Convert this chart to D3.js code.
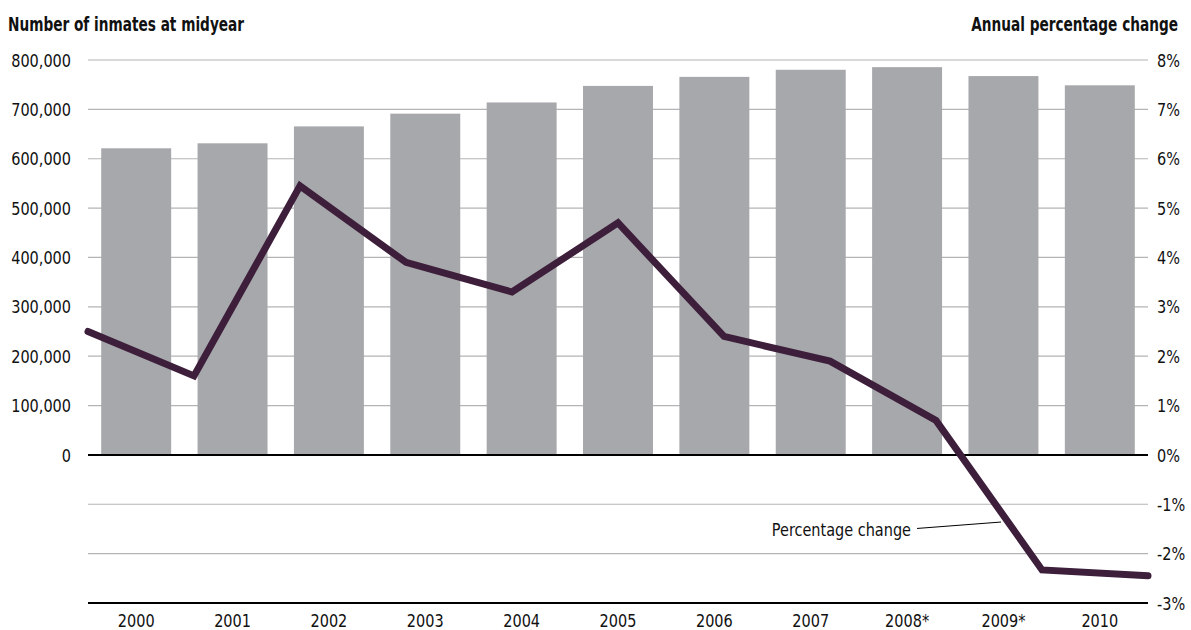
<!DOCTYPE html>
<html>
<head>
<meta charset="utf-8">
<script src="https://cdn.jsdelivr.net/npm/d3@7"></script>
<style>
  html, body { margin: 0; padding: 0; background: #fff; }
  svg { display: block; }
  text { font-family: "Liberation Sans Narrow", "DejaVu Sans Condensed", "Roboto", sans-serif; fill: #111; }
</style>
</head>
<body>
<svg id="chart" width="1191" height="630"></svg>
<script>
const years = ["2000","2001","2002","2003","2004","2005","2006","2007","2008*","2009*","2010"];
const inmates = [621149, 631240, 665475, 691301, 713990, 747529, 765819, 780174, 785533, 767434, 748728];
const pctChange = [2.5, 1.6, 5.45, 3.9, 3.3, 4.7, 2.4, 1.9, 0.7, -2.33, -2.45];
const leftTicks = [0, 100000, 200000, 300000, 400000, 500000, 600000, 700000, 800000];
const rightTicks = [-3, -2, -1, 0, 1, 2, 3, 4, 5, 6, 7, 8];
const leftTitle = "Number of inmates at midyear";
const rightTitle = "Annual percentage change";
const annotation = "Percentage change";

const svg = d3.select("#chart");
const x0 = 88, x1 = 1148, yTop = 60, yBot = 603;
const sLab = 0.87, sTitle = 0.78;

const yL = d3.scaleLinear().domain([-300000, 800000]).range([yBot, yTop]);
const yR = d3.scaleLinear().domain([-3, 8]).range([yBot, yTop]);
const xBand = d3.scaleBand().domain(years).range([x0, x1]).paddingInner(0.274).paddingOuter(0.137);
const xPt = d3.scalePoint().domain(years).range([x0, x1]).padding(0);

const tf = (x, y, s) => `translate(${x},${y}) scale(${s},1)`;

// gridlines
svg.append("g").selectAll("line").data(rightTicks.filter(d => d !== 0 && d !== -3)).join("line")
  .attr("x1", x0).attr("x2", x1)
  .attr("y1", d => yR(d)).attr("y2", d => yR(d))
  .attr("stroke", "#b4b4b6").attr("stroke-width", 1.2);

// bars
svg.append("g").selectAll("rect").data(years).join("rect")
  .attr("x", d => xBand(d))
  .attr("width", xBand.bandwidth())
  .attr("y", (d, i) => yL(inmates[i]))
  .attr("height", (d, i) => yL(0) - yL(inmates[i]))
  .attr("fill", "#a7a8ab");

// zero line and bottom axis line
svg.append("line").attr("x1", x0).attr("x2", x1).attr("y1", yR(0)).attr("y2", yR(0))
  .attr("stroke", "#000").attr("stroke-width", 2);
svg.append("line").attr("x1", x0).attr("x2", x1).attr("y1", yR(-3)).attr("y2", yR(-3))
  .attr("stroke", "#000").attr("stroke-width", 2.2);

// left axis labels
const fmt = d3.format(",");
svg.append("g").selectAll("text").data(leftTicks).join("text")
  .attr("transform", d => tf(71, yL(d), sLab)).attr("dy", "0.36em")
  .attr("text-anchor", "end").attr("font-size", 18.5)
  .text(d => fmt(d));

// right axis labels
svg.append("g").selectAll("text").data(rightTicks).join("text")
  .attr("transform", d => tf(1157, yR(d), sLab)).attr("dy", "0.36em")
  .attr("text-anchor", "start").attr("font-size", 18.5)
  .text(d => d + "%");

// x labels
svg.append("g").selectAll("text").data(years).join("text")
  .attr("transform", d => tf(xBand(d) + xBand.bandwidth() / 2, 627, sLab))
  .attr("text-anchor", "middle").attr("font-size", 18.5)
  .text(d => d);

// titles
svg.append("text").attr("transform", tf(8, 31, sTitle)).attr("font-size", 19.5).attr("font-weight", "bold").text(leftTitle);
svg.append("text").attr("transform", tf(1178, 31, sTitle)).attr("text-anchor", "end").attr("font-size", 19.5).attr("font-weight", "bold").text(rightTitle);

// line
const line = d3.line().x((d, i) => xPt(years[i])).y(d => yR(d));
svg.append("path").datum(pctChange)
  .attr("d", line)
  .attr("fill", "none").attr("stroke", "#3d1f3c").attr("stroke-width", 7)
  .attr("stroke-linejoin", "miter").attr("stroke-linecap", "round");

// annotation
svg.append("text").attr("transform", tf(911, yR(-1.5), sLab)).attr("dy", "0.36em")
  .attr("text-anchor", "end").attr("font-size", 18.5).text(annotation);
svg.append("line").attr("x1", 917).attr("y1", yR(-1.49)).attr("x2", 1001).attr("y2", yR(-1.36))
  .attr("stroke", "#000").attr("stroke-width", 1);
</script>
</body>
</html>
